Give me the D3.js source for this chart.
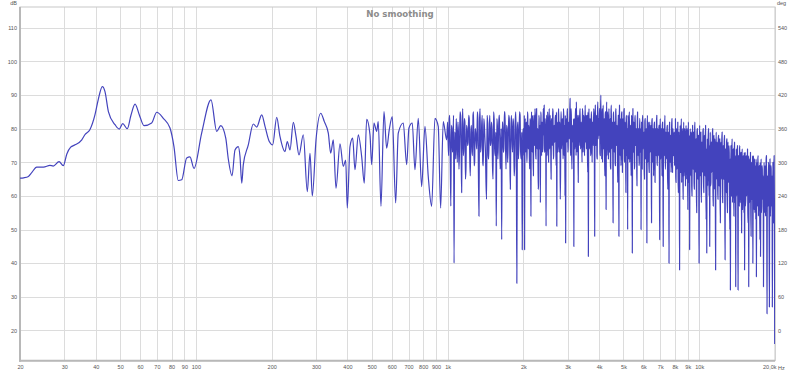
<!DOCTYPE html>
<html><head><meta charset="utf-8">
<script src="https://cdn.jsdelivr.net/npm/d3@7"></script>
<style>
body{margin:0;background:#fff;}
svg{display:block;font-family:"Liberation Sans",Arial,sans-serif;}
</style></head><body>
<svg id="c" width="800" height="371"></svg>
<script>
// ---- data ----
const xTicks=[20,30,40,50,60,70,80,90,100,200,300,400,500,600,700,800,900,1000,2000,3000,4000,5000,6000,7000,8000,9000,10000,20000];
const xTickLabels=["20","30","40","50","60","70","80","90","100","200","300","400","500","600","700","800","900","1k","2k","3k","4k","5k","6k","7k","8k","9k","10k","20,0k"];
const dbTicks=[20,30,40,50,60,70,80,90,100,110];
const degTicks=[0,60,120,180,240,300,360,420,480,540];
const title="No smoothing";

// low-frequency part: measured frequencies (Hz) and levels (dB)
const lowFreq=[20,20.7,21.6,22.3,23.3,24.8,26.3,27.1,28.6,29.7,30.7,31.8,33.1,35.2,36.2,37.9,39.7,40.9,42.5,43.5,44.9,47.7,49.6,51.2,53.4,55.2,57.3,59.6,62.2,66.7,69.9,74.2,78.9,81.8,85.1,87.8,91.9,94.7,98.3,105.4,114.8,121.0,125.5,131.4,134.5,139.2,143.0,147.4,149.7,152.1,154.3,161.5,169.1,174.4,182.6,188.2,195.7,201.9,209.4,215.8,225.9,230.7,236.5,243.8,249.9,256.8,267.1,277.1,284.0,290.1,300.1,313.3,323.8,335.8,343.2,351.5,360.3,373.7,385.2,393.7,399.5,409.5,419.7,428.6,441.8,455.7,466.7,477.0,491.7,499.4,510.0,522.7,530.4,543.7,558.8,572.8,586.6,602.9,621.9,636.9,666.7,687.7,702.4,723.9,742.0,764.7,788.9,813.1,838.0,864.4,890.9,918.2,938.6,961.2,991.6];
const lowDb=[65.3,65.4,65.8,67.0,68.6,68.6,69.1,68.9,70.2,69.0,72.5,74.5,75.2,76.7,78.2,79.7,84.1,88.6,92.5,91.1,85.1,81.2,79.9,81.5,80.0,84.0,87.3,84.1,80.9,81.7,84.9,83.1,80.2,74.7,64.6,64.8,71.3,71.6,68.2,78.7,88.6,79.2,80.9,77.2,71.0,66.0,73.7,74.7,71.7,63.8,69.3,75.2,81.4,80.5,84.1,80.7,76.2,75.2,83.4,77.7,73.2,76.2,73.7,81.9,77.7,72.2,78.2,61.3,72.7,60.0,76.7,84.6,82.1,78.7,72.7,76.7,62.3,75.5,68.8,70.7,56.4,74.7,77.2,67.8,78.2,71.7,63.8,82.8,78.2,69.3,81.7,79.2,82.1,56.9,85.1,74.2,79.7,83.6,57.9,78.7,81.7,69.3,80.2,81.7,67.8,83.1,62.8,80.7,65.8,56.9,83.1,80.7,56.4,82.1,76.7];

// dense parts: levels read left to right, evenly spaced (log) within each band
const band1From=1000, band1To=2000;
const band1Db=[82,76,72,83,84,70,57,81,80,73,75,84,40,79,78,71,83,77,70,82,79,68,73,85,84,74,61,80,86,72,74,83,82,65,68,81,80,75,76,84,83,71,66,79,81,74,72,84,85,69,70,80,79,76,74,85,83,67,54,82,86,73,75,81,84,70,69,83,81,77,73,64,59,84,82,72,71,80,84,75,76,82,80,69,65,85,83,74,72,79,51,83,81,71,77,84,84,68,70,80,47,82,82,73,74,85,85,76,68,81,80,70,75,84,83,72,62,80,84,77,73,83,81,66,69,82,85,74,34,80,82,71,76,85,84,73,71,79,44,78];
const band2From=2000, band2To=4000;
const band2Db=[80,75,72,84,44,78,83,73,75,82,81,70,70,85,84,76,74,81,79,72,
68,83,82,74,54,80,85,77,73,84,80,71,66,82,84,75,76,86,81,73,
71,83,86,76,74,80,79,62,63,84,83,74,77,81,58,85,84,75,72,82,
81,73,75,86,85,78,87,74,73,83,80,76,51,84,84,72,76,85,82,74,
70,81,86,77,74,84,79,73,65,82,83,75,78,86,85,71,72,80,81,76,
76,83,84,74,69,85,51,78,82,73,75,84,86,77,73,82,80,59,67,85,
85,74,77,83,82,76,71,86,84,72,79,81,60,84,46,75,83,79,76,85,
86,73,74,82,81,77,78,84,89,75,72,86,84,74,68,81,80,77,76,83,
45,79,83,74,77,86,85,72,88,80,73,84,81,76,64,83,84,75,78,85,
86,74,75,82,80,77,70,86,85,73,77,84,83,75,72,81,87,76,79,84,
74,78,84,73,67,85,42,77,86,74,76,83,82,72,73,85,85,78,70,82,
81,75,78,86,84,73,48,81,87,76,75,84,83,72,71,85,88,77,80,83];
const band3From=4000, band3To=8000;
const band3Db=[78,84,86,73,72,85,90,76,80,71,84,86,70,78,87,74,75,83,82,70,
66,84,85,75,56,81,88,72,76,85,81,77,71,83,86,73,74,80,83,69,
68,85,87,74,77,82,80,71,52,84,85,76,73,81,82,70,69,85,86,75,
75,80,81,72,64,84,84,74,48,82,87,77,72,83,80,69,76,84,85,73,
67,81,83,76,74,85,86,71,70,82,79,74,61,83,84,72,77,80,50,84,
82,75,71,83,85,70,75,81,80,73,66,84,83,71,43,80,86,74,73,82,
81,68,69,83,84,75,76,80,79,70,63,82,85,74,72,79,80,69,70,83,
83,73,74,80,50,76,82,71,68,83,84,74,77,78,79,68,65,82,83,72,
71,79,80,73,46,81,84,70,73,82,78,67,67,80,82,73,75,79,81,69,
52,82,83,72,70,80,79,66,74,81,82,71,64,79,80,73,72,82,84,70,
69,80,78,72,76,81,81,67,47,79,83,71,71,80,79,74,66,81,82,70,
45,78,80,72,73,81,84,68,68,79,78,71,75,80,81,66,62,78,79,70,
40,80,82,71,70,78,78,67,74,81,83,70,67,79,80,72,72,77,79,69];
const band4From=8000, band4To=20000;
const band4Db=[76,70,83,66,64,79,80,68,70,77,82,65,61,78,79,70,38,75,81,67,
67,79,83,64,72,80,78,69,59,76,82,66,69,79,80,71,63,77,81,65,
71,80,79,68,56,77,82,64,66,78,44,70,80,66,73,79,78,63,60,76,
81,69,68,78,79,64,62,80,82,67,70,76,77,61,55,79,80,68,65,77,
78,63,40,75,81,66,67,78,79,62,58,76,76,67,71,79,80,64,61,75,
78,68,66,77,81,62,53,74,43,69,77,63,69,78,80,66,60,75,45,70,
79,63,64,76,76,67,70,78,80,61,57,74,78,66,62,77,75,60,38,72,
79,65,67,76,74,62,59,77,78,64,63,75,77,60,52,73,76,65,68,77,
79,61,58,74,75,66,65,76,78,60,41,72,74,63,61,76,77,59,55,73,
76,64,66,75,73,60,50,71,32,66,75,61,60,74,77,58,63,72,74,62,
54,73,76,59,58,72,33,64,74,60,64,73,75,57,32,70,72,61,57,74,
75,58,61,72,73,63,49,70,74,56,66,72,71,60,55,73,38,62,73,57,
59,71,72,60,63,70,74,55,52,72,33,62,71,58,60,70,73,56,48,69,
70,59,62,72,40,57,72,63,56,70,71,55,64,69,53,71,36,60,70,57,
58,71,72,54,61,68,69,58,47,70,42,61,71,55,57,69,68,59,60,66,
33,58,70,63,55,69,67,54,62,71,72,56,25,64,66,57,58,70,69,53,
27,62,71,55,54,69,68,57,60,66,27,59,70,54,52,68,72,58,16];

// ---- build points ----
const pts=lowFreq.map((f,i)=>({f,db:lowDb[i]}));
[[band1From,band1To,band1Db],[band2From,band2To,band2Db],[band3From,band3To,band3Db],[band4From,band4To,band4Db]].forEach(([a,b,vals])=>{
  const n=vals.length;
  vals.forEach((v,i)=>pts.push({f:a*Math.pow(b/a,i/n),db:v}));
});

// ---- layout ----
const L=20,R=775,T=7,B=360.7;
const svg=d3.select("#c");
const x=d3.scaleLog().domain([20,20000]).range([L,R]);
const y=d3.scaleLinear().domain([11,116.2]).range([B,T]);
const yDeg=d3.scaleLinear().domain([(11-20)*6,(116.2-20)*6]).range([B,T]);

svg.append("rect").attr("width",800).attr("height",371).attr("fill","#fff");

// grid
const gx=svg.append("g").attr("transform",`translate(0,${B})`)
  .call(d3.axisBottom(x).tickValues(xTicks).tickSize(-(B-T)).tickFormat(""));
gx.select(".domain").remove();
gx.selectAll("line").attr("stroke","#dcdcdc").attr("stroke-width",1).attr("shape-rendering","crispEdges");
const gy=svg.append("g").attr("transform",`translate(${L},0)`)
  .call(d3.axisLeft(y).tickValues(dbTicks).tickSize(-(R-L)).tickFormat(""));
gy.select(".domain").remove();
gy.selectAll("line").attr("stroke","#dcdcdc").attr("stroke-width",1).attr("shape-rendering","crispEdges");

// frame
svg.append("rect").attr("x",L).attr("y",T).attr("width",R-L).attr("height",B-T)
  .attr("fill","none").attr("stroke","#c8c8c8").attr("stroke-width",1);
svg.append("line").attr("x1",L).attr("x2",L).attr("y1",T).attr("y2",B+1).attr("stroke","#b8b8b8").attr("stroke-width",2);
svg.append("line").attr("x1",L-1).attr("x2",R).attr("y1",B).attr("y2",B).attr("stroke","#b8b8b8").attr("stroke-width",2);

// data line
svg.append("clipPath").attr("id","clip").append("rect").attr("x",L).attr("y",T).attr("width",R-L).attr("height",B-T);
svg.append("path").datum(pts).attr("clip-path","url(#clip)")
  .attr("fill","none").attr("stroke","#4343bd").attr("stroke-width",1.2).attr("stroke-linejoin","round")
  .attr("d",d3.line().x(d=>x(d.f)).y(d=>y(d.db)).curve(d3.curveMonotoneX));

// labels
const fs=5.5, col="#555";
const ax=svg.append("g").attr("transform",`translate(0,${B})`)
  .call(d3.axisBottom(x).tickValues(xTicks).tickSize(0).tickPadding(4).tickFormat((d,i)=>xTickLabels[i]));
ax.select(".domain").remove();
ax.selectAll("text").attr("font-size",fs).attr("fill",col).attr("font-family","Liberation Sans, Arial, sans-serif");
ax.selectAll("text").filter(d=>d===20000).attr("text-anchor","end").attr("dx",1);
svg.append("text").attr("x",R+3).attr("y",B+4+fs*0.71+(fs*0.32)).attr("font-size",fs).attr("fill",col).text("Hz");

const al=svg.append("g").attr("transform",`translate(${L},0)`)
  .call(d3.axisLeft(y).tickValues(dbTicks).tickSize(0).tickPadding(3));
al.select(".domain").remove();
al.selectAll("text").attr("font-size",fs).attr("fill",col).attr("font-family","Liberation Sans, Arial, sans-serif");
const ar=svg.append("g").attr("transform",`translate(${R},0)`)
  .call(d3.axisRight(yDeg).tickValues(degTicks).tickSize(0).tickPadding(3));
ar.select(".domain").remove();
ar.selectAll("text").attr("font-size",fs).attr("fill",col).attr("font-family","Liberation Sans, Arial, sans-serif");

svg.append("text").attr("x",L-3).attr("y",5).attr("text-anchor","end").attr("font-size",fs).attr("fill",col).text("dB");
svg.append("text").attr("x",R+2).attr("y",5).attr("font-size",fs).attr("fill",col).text("deg");

svg.append("text").attr("x",400).attr("y",17).attr("text-anchor","middle")
  .attr("font-family","DejaVu Sans, Verdana, sans-serif").attr("font-weight","bold")
  .attr("font-size",8.6).attr("fill","#8c8c8c").text(title);
</script>
</body></html>
